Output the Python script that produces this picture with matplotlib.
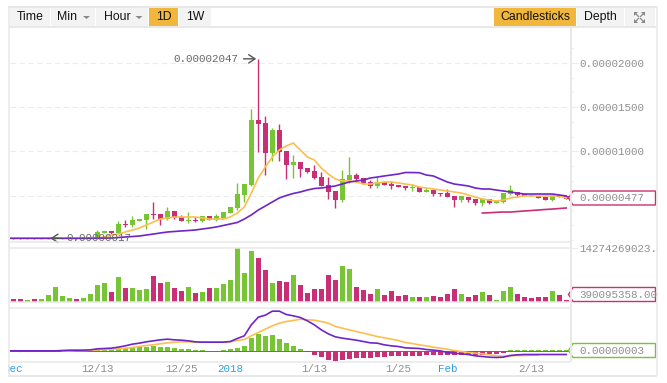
import numpy as np
import matplotlib
matplotlib.use('Agg')
import matplotlib.pyplot as plt
from matplotlib.patches import Rectangle, Polygon

W, H = 667, 383

# prices are in units of 0.00000001
opens = [20, 20, 10, 20, 10, 10, 10, 10, 10, 20, 10, 10,
         20, 77, 100, 77, 179, 167, 213, 224, 292, 292, 235, 326, 258, 213, 224, 213,
         269, 224, 247, 303, 360, 507, 620, 1355, 1321, 982, 1242, 1005, 846, 880,
         812, 778, 710, 620, 552, 450, 676, 733, 699, 654, 609, 654, 631, 620, 609,
         586, 597, 541, 563, 529, 529, 496, 450, 484, 462, 416, 462, 416, 428, 518,
         541, 518, 507, 496, 484, 450, 507, 496]
closes = [10, 10, 20, 10, 20, 20, 20, 20, 20, 10, 20, 20,
          88, 100, 77, 179, 170, 224, 235, 292, 280, 235, 326, 247, 213, 224, 213, 269,
          224, 269, 314, 371, 518, 631, 1355, 1310, 982, 1242, 993, 846, 880, 801,
          767, 699, 609, 541, 450, 688, 733, 688, 643, 609, 654, 620, 609, 597, 586,
          597, 541, 563, 518, 518, 484, 450, 496, 450, 416, 462, 416, 439, 529, 563,
          507, 496, 496, 473, 450, 507, 484, 462]
highs = [20, 20, 20, 20, 20, 20, 20, 20, 20, 20, 20, 20,
         111, 100, 100, 213, 222, 269, 235, 292, 428, 292, 371, 326, 281, 314, 258, 269,
         269, 292, 314, 371, 643, 631, 1480, 2047, 1400, 1265, 1310, 1005, 959, 880,
         812, 846, 767, 710, 552, 790, 937, 756, 699, 676, 710, 654, 665, 620, 609,
         631, 597, 586, 563, 529, 575, 496, 496, 484, 462, 462, 462, 439, 529, 620,
         541, 518, 507, 496, 484, 518, 507, 496]
lows = [10, 10, 10, 10, 10, 10, 10, 10, 10, 10, 10, 10,
        20, 77, 65, 77, 145, 145, 213, 122, 235, 167, 224, 235, 213, 190, 201, 205,
        224, 213, 235, 303, 337, 428, 609, 993, 733, 891, 891, 688, 699, 710,
        756, 688, 609, 462, 360, 428, 643, 654, 631, 586, 586, 620, 575, 597, 563,
        552, 541, 541, 496, 496, 484, 371, 428, 428, 394, 382, 405, 416, 416, 507,
        484, 496, 496, 473, 450, 439, 484, 462]

# the moving averages start one candle left of the first whole candle
ma_orange = [17] * 13 + [20, 32, 54, 65, 88, 111, 133, 167, 201, 235, 247, 258, 258, 258,
             258, 247, 235, 235, 235, 258, 303, 371, 529, 699, 824, 937, 1016, 1061,
             1095, 1016, 937, 903, 812, 744, 688, 665, 665, 654, 631, 631, 643, 654,
             654, 643, 631, 620, 597, 586, 575, 563, 552, 541, 529, 507, 484, 462,
             450, 439, 450, 473, 484, 496, 496, 496, 496, 496, 496, 473]
ma_purple = [17] * 14 + [20, 20, 26, 32, 37, 43, 54, 65, 77, 88, 94, 100, 105, 111, 122,
             133, 145, 162, 179, 196, 235, 281, 337, 382, 428, 473, 501, 524, 541,
             563, 580, 586, 597, 609, 631, 654, 665, 676, 699, 710, 722, 733, 744,
             761, 761, 759, 733, 722, 688, 654, 631, 620, 609, 586, 575, 575, 563,
             552, 541, 529, 518, 518, 518, 518, 518, 507, 496]
ma_red = [303, 306, 311, 314, 314, 320, 326, 331, 337, 343, 348, 354, 360]
ma_red_start = 67

# volume in millions
volumes = [540, 540, 270, 540, 540, 1620, 3780, 1350, 810, 540, 810, 1890, 4320, 4860,
           2430, 6480, 3510, 3510, 2970, 3240, 6750, 4860, 5130, 3510, 2700, 3780, 2160,
           2430, 3510, 3510, 4590, 5670, 14274, 7560, 13500, 11610, 8370, 4860, 5400,
           5130, 7020, 4320, 2160, 3240, 3240, 7020, 5670, 9450, 8640, 3780, 2970, 1890,
           3240, 1620, 2700, 1350, 1620, 1080, 1080, 1080, 1350, 1080, 1890, 3240, 1890,
           1080, 1620, 2430, 1620, 270, 2700, 3780, 1890, 1080, 810, 1080, 1080, 2700,
           1620, 390]

macd_hist = [-4, -4, -4, -4, -4, 4, 4, 2, 2, 2, 2, 2, 4, 6, 6, 12, 18, 18, 24, 24, 30, 24,
             24, 18, 12, 12, 4, 4, -4, -4, 4, 12, 18, 30, 78, 102, 90, 96, 72, 48, 28, 10,
             -8, -26, -38, -56, -62, -56, -50, -44, -44, -44, -38, -38, -32, -32, -32,
             -32, -32, -26, -26, -26, -26, -26, -26, -28, -26, -26, -20, -20, -14, 4, 2,
             4, 6, 6, 2, 2, 2, 3]
macd_purple = [-2, -2, -2, -2, -2, -2, -2, -2, 0, 2, 2, 2, 4, 10, 12, 14, 20, 28, 38, 44, 52, 58,
               64, 68, 64, 62, 58, 52, 50, 50, 50, 50, 54, 72, 88, 154, 200, 212, 236, 236,
               216, 208, 198, 178, 154, 124, 100, 82, 74, 68, 62, 54, 46, 44, 34, 28, 24,
               16, 14, 12, 6, 2, -2, -12, -16, -20, -24, -32, -36, -40, -42, -40, -30, -26,
               -24, -24, -24, -24, -24, -24, -24]
macd_orange = [-2, -2, 0, 0, 2, 4, 6, 8, 10, 14, 18, 24, 30, 34, 40, 46, 50, 52, 52, 50, 50,
               50, 50, 50, 52, 60, 66, 88, 108, 128, 148, 164, 174, 180, 188, 184, 182, 174,
               164, 144, 134, 124, 114, 104, 94, 84, 76, 68, 60, 48, 42, 34, 28, 20, 14, 8,
               0, -6, -12, -16, -20, -26, -32, -34, -32, -30, -30, -28, -28]
macd_orange_start = 7

x_ticks = [0, 12, 24, 31, 43, 55, 62, 74]
x_labels = ['Dec', '12/13', '12/25', '2018', '1/13', '1/25', 'Feb', '2/13']
x_blue = ['Dec', '2018', 'Feb']

GREEN = '#77c434'
RED = '#c92f76'
ORANGE = '#fcbf4e'
PURPLE = '#6f25c8'
LIGHT = '#ececec'
TXT = '#8f8f8f'
MONO = 'Liberation Mono'
LW = 1.2

fig = plt.figure(figsize=(W / 100, H / 100), dpi=100, facecolor='w')


def px_axes(left, top, right, bottom, z=1):
    ax = fig.add_axes([left / W, 1 - bottom / H, (right - left) / W, (bottom - top) / H], zorder=z)
    ax.patch.set_visible(False)
    for s in ax.spines.values():
        s.set_visible(False)
    ax.set_xlim((left - 13.3) / 7, (right - 13.3) / 7)
    ax.set_xticks([])
    ax.yaxis.tick_right()
    return ax


x = np.arange(len(opens))
x_ma = np.arange(-1, len(opens))
opens = np.array(opens)
closes = np.array(closes)
up = closes >= opens
colors = np.where(up, GREEN, RED)

# main panel
ax = px_axes(9.5, 27.5, 570.5, 241.5)
ax.set_ylim(2000 - (241.5 - 63) * 11.312, 2000 + (63 - 27.5) * 11.312)
ax.set_yticks([500, 1000, 1500, 2000])
ax.set_yticklabels(['', '0.00001000', '0.00001500', '0.00002000'],
                   family=MONO, fontsize=7.8, color=TXT)
ax.set_yticks(np.arange(0, 2200, 500 / 3), minor=True)
ax.tick_params(axis='y', which='major', length=5.8, color=LIGHT, pad=0.3, width=0.8)
ax.tick_params(axis='y', which='minor', length=2.2, color=LIGHT, width=0.8)
ax.grid(axis='y', color=LIGHT, lw=0.8, ls=(0, (5, 3)))
ax.set_axisbelow(True)
ax.vlines(x, lows, highs, color=colors, lw=1.0, zorder=2)
ax.bar(x, np.abs(closes - opens), bottom=np.minimum(opens, closes), width=0.72, color=colors, zorder=2)
ax.plot(x_ma, ma_orange, color=ORANGE, lw=LW, zorder=3)
ax.plot(x_ma, ma_purple, color=PURPLE, lw=LW, zorder=4)
ax.plot(np.arange(len(ma_red)) + ma_red_start, ma_red, color=RED, lw=LW, zorder=4)
arrow = dict(arrowstyle='->,head_length=0.45,head_width=0.3', color='#555555', lw=1.0, shrinkA=0, shrinkB=0)
ax.annotate('', xy=(34.7, 2047), xytext=(32.9, 2047), arrowprops=arrow, zorder=6)
ax.text(32.2, 2047, '0.00002047', family=MONO, fontsize=7.8, color='#666666', ha='right', va='center', zorder=6)
ax.annotate('', xy=(5.3, 17), xytext=(6.8, 17), arrowprops=arrow, zorder=6)
ax.text(7.6, 17, '0.00000017', family=MONO, fontsize=7.8, color='#666666', ha='left', va='center', zorder=6)

# volume panel
ax2 = px_axes(9.5, 247.5, 570.5, 301.5)
ax2.set_ylim(0, 14274 * 54 / 53.3)
ax2.set_yticks([14274])
ax2.set_yticklabels(['14274269023.00'], family=MONO, fontsize=7.8, color=TXT)
ax2.tick_params(axis='y', length=5.8, color=LIGHT, pad=0.3, width=0.8)
ax2.bar(x, volumes, width=0.7, color=colors)

# macd panel
ax3 = px_axes(9.5, 307.5, 570.5, 361.5)
ax3.set_ylim(-66, 258)
ax3.set_yticks([])
ax3.axhline(0, color='#555555', lw=0.6, zorder=1)
hist = np.array(macd_hist)
ax3.bar(x, hist, width=0.7, color=np.where(hist >= 0, GREEN, RED), zorder=2)
ax3.plot(np.arange(len(macd_orange)) + macd_orange_start, macd_orange, color=ORANGE, lw=LW, zorder=3)
ax3.plot(x_ma, macd_purple, color=PURPLE, lw=LW, zorder=4)
ax3.set_xticks(x_ticks)
ax3.set_xticklabels(x_labels, family=MONO, fontsize=7.8)
ax3.tick_params(axis='x', length=0, pad=2)
for lab in ax3.get_xticklabels():
    lab.set_color('#2f9fe0' if lab.get_text() in x_blue else TXT)

# toolbar, frame and price boxes in pixel coordinates
top = fig.add_axes([0, 0, 1, 1], zorder=5)
top.set_xlim(0, W)
top.set_ylim(H, 0)
top.axis('off')
top.add_patch(Rectangle((0, 0), 8, H, fc='w', ec='none'))
top.add_patch(Rectangle((657.5, 0), 10, H, fc='w', ec='none'))

for x0, x1, y0, y1 in [(8, 657, 6.5, 6.5), (8, 657, 375.5, 375.5), (8.5, 8.5, 6, 376), (657, 657, 6, 376),
                       (9, 657, 27, 27), (9, 570.5, 241.5, 241.5), (9, 570.5, 247.5, 247.5),
                       (9, 570.5, 301.8, 301.8), (9, 570.5, 307.5, 307.5), (9, 570.5, 361.5, 361.5),
                       (570.7, 570.7, 27, 361.5)]:
    top.plot([x0, x1], [y0, y1], color='#e8e8e8', lw=1.1 if x0 != 8 and y0 != 27 else 1.4, solid_capstyle='butt')

buttons = [('Time', 10, 50, False), ('Min', 51, 95, False), ('Hour', 96, 148, False), ('1D', 149, 178, True),
           ('1W', 179, 211, False), ('Candlesticks', 494, 576, True), ('Depth', 577, 624, False)]
for name, b0, b1, on in buttons:
    top.add_patch(Rectangle((b0, 8), b1 - b0, 18, fc='#f1b63c' if on else '#f3f3f3', ec='none'))
    cx = (b0 + b1) / 2
    if name == 'Min':
        cx = 67.5
    if name == 'Hour':
        cx = 117
    top.text(cx, 17, name, family='Liberation Sans', fontsize=8.8, color='#111111', ha='center', va='center')
for tx in [86.5, 139]:
    top.add_patch(Polygon([(tx - 3.5, 16), (tx + 3.5, 16), (tx, 19)], fc='#888888', ec='none'))

# expand icon
top.add_patch(Rectangle((625, 8), 30, 18, fc='#f3f3f3', ec='none'))
for cx, cy, dx, dy in [(634, 12, 1, 1), (645, 12, -1, 1), (634, 23, 1, -1), (645, 23, -1, -1)]:
    top.add_patch(Polygon([(cx, cy), (cx + 4 * dx, cy), (cx, cy + 4 * dy)], fc='#888888', ec='none'))
    top.plot([cx + 1.5 * dx, cx + 4.5 * dx], [cy + 1.5 * dy, cy + 4.5 * dy], color='#888888', lw=0.9)

boxes = [('0.00000477', 198, RED), ('390095358.00', 294.5, RED), ('0.00000003', 350.5, GREEN)]
for label, yc, col in boxes:
    top.add_patch(Polygon([(568.5, yc), (573, yc - 7), (655.5, yc - 7), (655.5, yc + 7), (573, yc + 7)],
                          fc='w', ec=col, lw=1.0))
    t = top.text(579, yc + 0.3, label, family=MONO, fontsize=7.8, color=TXT, ha='left', va='center')
    t.set_clip_path(Rectangle((570, yc - 7), 85.5, 14, transform=top.transData))

fig.savefig('out.png', dpi=100)
